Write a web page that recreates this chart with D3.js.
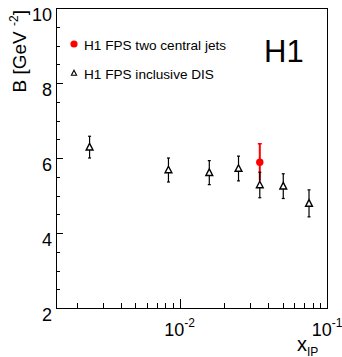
<!DOCTYPE html>
<html><head><meta charset="utf-8">
<script src="https://cdn.jsdelivr.net/npm/d3@7"></script>
<style>
html,body{margin:0;padding:0;background:#fff;}
svg{display:block;font-family:"Liberation Sans",Arial,Helvetica,sans-serif;}
</style></head>
<body>
<svg id="c" width="342" height="357"></svg>
<script>
// Inclusive DIS (open triangles)
const incX = [0.00245, 0.0084, 0.0159, 0.0251, 0.035, 0.0505, 0.0755];
const incB = [6.29, 5.68, 5.61, 5.72, 5.28, 5.25, 4.79];
const incErr = [0.29, 0.32, 0.32, 0.33, 0.34, 0.33, 0.36];
// Two central jets (red filled circle)
const jetX = [0.035];
const jetB = [5.89];
const jetErr = [0.49];
const yTickLabels = ["2", "4", "6", "8", "10"];
const xTickLabels = [["10", "-2"], ["10", "-1"]];
const legendLabels = ["H1 FPS two central jets", "H1 FPS inclusive DIS"];

const svg = d3.select("#c");
const L = 56, R = 327, T = 8, B = 308;
const x = d3.scaleLog().domain([0.00145, 0.1]).range([L, R]);
const y = d3.scaleLinear().domain([2, 10]).range([B, T]);

// y ticks
const yT = y.ticks(16);
svg.append("g").selectAll("line").data(yT).join("line")
  .attr("x1", L).attr("x2", d => L + (Math.abs(d % 2) < 1e-9 ? 7 : 4))
  .attr("y1", d => Math.round(y(d)) + 0.5).attr("y2", d => Math.round(y(d)) + 0.5)
  .attr("stroke", "#000").attr("stroke-width", 1);
svg.append("g").selectAll("text").data(yTickLabels).join("text")
  .attr("x", 52).attr("y", d => y(+d) + 13)
  .attr("text-anchor", "end").attr("font-size", 18).text(d => d);

// x ticks
const xT = x.ticks().filter(d => d >= 0.00145 && d <= 0.1);
svg.append("g").selectAll("line").data(xT).join("line")
  .attr("x1", d => Math.round(x(d)) + 0.5).attr("x2", d => Math.round(x(d)) + 0.5)
  .attr("y1", B).attr("y2", d => {
    const l = Math.log10(d); return B - (Math.abs(l - Math.round(l)) < 1e-6 ? 9 : 5);
  })
  .attr("stroke", "#000").attr("stroke-width", 1);
const xMaj = [0.01, 0.1];
xMaj.forEach((v, i) => {
  const t = svg.append("text").attr("x", x(v)).attr("y", 336)
    .attr("text-anchor", "middle").attr("font-size", 18);
  t.append("tspan").text(xTickLabels[i][0]);
  t.append("tspan").attr("dy", -9).attr("font-size", 12).text(xTickLabels[i][1]);
});

// frame
svg.append("rect").attr("x", L + 0.5).attr("y", T + 0.5)
  .attr("width", R - L).attr("height", B - T)
  .attr("fill", "none").attr("stroke", "#000").attr("stroke-width", 1);

// axis titles
const yt = svg.append("text").attr("transform", "translate(26,10) rotate(-90)")
  .attr("text-anchor", "end").attr("font-size", 19);
yt.append("tspan").text("B [GeV ");
yt.append("tspan").attr("dy", -8).attr("font-size", 12).text("-2");
yt.append("tspan").attr("dy", 8).text("]");

const xt = svg.append("text").attr("x", 297).attr("y", 351).attr("font-size", 20);
xt.append("tspan").text("x");
xt.append("tspan").attr("dy", 4.5).attr("font-size", 12).text("IP");

// H1 label
svg.append("text").attr("x", 264).attr("y", 62).attr("font-size", 31).text("H1");

// triangle path
const tri = "M0,-3.8L3.4,2.8L-3.4,2.8Z";

// red jets data
const jets = jetX.map((d, i) => ({x: d, b: jetB[i], e: jetErr[i]}));
const gj = svg.append("g");
gj.selectAll("line.e").data(jets).join("line")
  .attr("x1", d => x(d.x)).attr("x2", d => x(d.x))
  .attr("y1", d => y(d.b + d.e)).attr("y2", d => y(d.b - d.e))
  .attr("stroke", "#ff0000").attr("stroke-width", 2);
gj.selectAll("line.c").data(jets).join("line")
  .attr("x1", d => x(d.x) - 2).attr("x2", d => x(d.x) + 2)
  .attr("y1", d => y(d.b + d.e)).attr("y2", d => y(d.b + d.e))
  .attr("stroke", "#ff0000").attr("stroke-width", 1.5);
gj.selectAll("circle").data(jets).join("circle")
  .attr("cx", d => x(d.x)).attr("cy", d => y(d.b)).attr("r", 3.7).attr("fill", "#ff0000");

// inclusive data
const inc = incX.map((d, i) => ({x: d, b: incB[i], e: incErr[i]}));
const gi = svg.append("g").attr("stroke", "#000");
inc.forEach(d => {
  const cx = x(d.x), cy = y(d.b), yu = y(d.b + d.e), yd = y(d.b - d.e);
  gi.append("line").attr("x1", cx).attr("x2", cx).attr("y1", yu).attr("y2", cy - 3.8).attr("stroke-width", 1.2);
  gi.append("line").attr("x1", cx).attr("x2", cx).attr("y1", cy + 2.8).attr("y2", yd).attr("stroke-width", 1.2);
  gi.append("line").attr("x1", cx - 1.5).attr("x2", cx + 1.5).attr("y1", yu).attr("y2", yu).attr("stroke-width", 1.2);
  gi.append("line").attr("x1", cx - 1.5).attr("x2", cx + 1.5).attr("y1", yd).attr("y2", yd).attr("stroke-width", 1.2);
  gi.append("path").attr("d", tri).attr("transform", `translate(${cx},${cy})`)
    .attr("fill", "none").attr("stroke-width", 1.4);
});

// legend
svg.append("circle").attr("cx", 74).attr("cy", 44).attr("r", 3.6).attr("fill", "#ff0000");
svg.append("path").attr("d", "M0,-2.8L2.6,2.2L-2.6,2.2Z").attr("transform", "translate(74,73)")
  .attr("fill", "none").attr("stroke", "#000").attr("stroke-width", 1.1);
svg.append("text").attr("x", 84).attr("y", 50).attr("font-size", 13.6).text(legendLabels[0]);
svg.append("text").attr("x", 84).attr("y", 79).attr("font-size", 13.6).text(legendLabels[1]);
</script>
</body></html>
